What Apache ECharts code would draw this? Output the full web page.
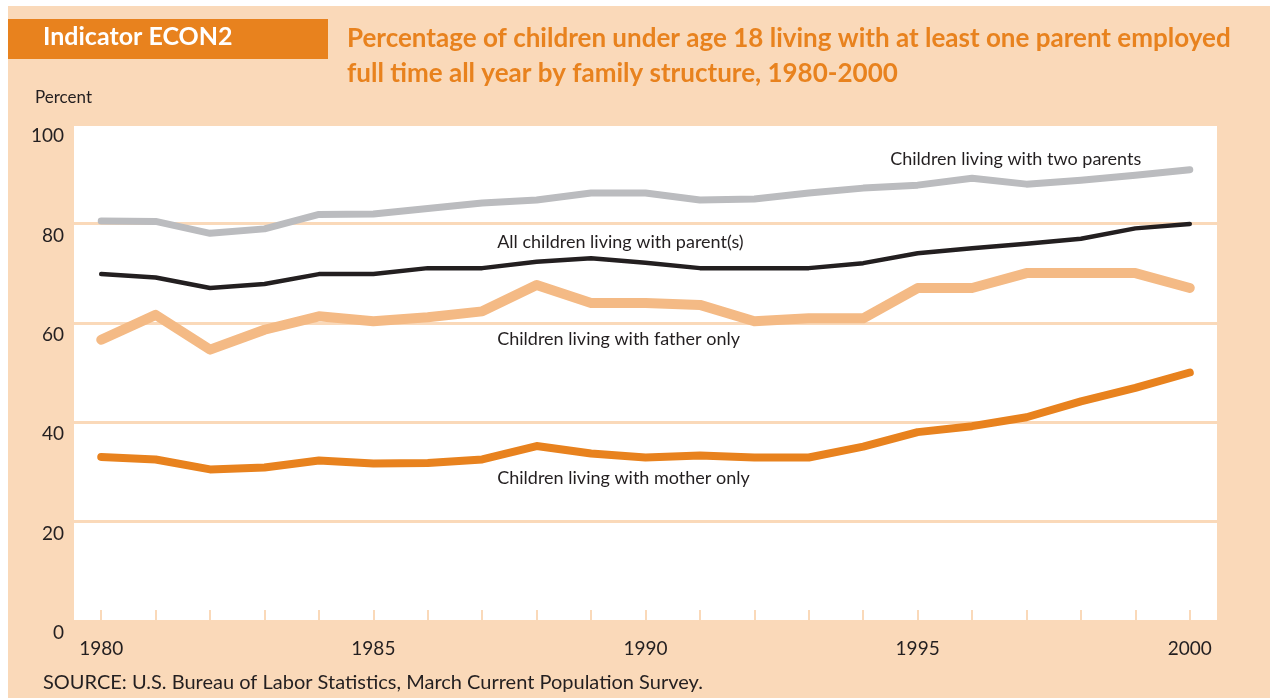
<!DOCTYPE html>
<html>
<head>
<meta charset="utf-8">
<script src="https://cdn.jsdelivr.net/npm/echarts@6/dist/echarts.min.js"></script>
<style>
  html, body { margin: 0; padding: 0; background: #ffffff; }
  #bg { position: absolute; left: 8px; top: 6px; width: 1262px; height: 692px; background: #FAD9B9; }
  #chart { position: absolute; left: 0; top: 0; width: 1270px; height: 698px; }
</style>
</head>
<body>
<div id="bg"></div>
<div id="chart"></div>
<script>
const years = ['1980','1981','1982','1983','1984','1985','1986','1987','1988','1989','1990',
               '1991','1992','1993','1994','1995','1996','1997','1998','1999','2000'];
const yTicks = [0, 20, 40, 60, 80, 100];

const twoParents = [80.5, 80.4, 78.0, 78.9, 81.8, 81.9, 83.0, 84.1, 84.7, 86.1, 86.1,
                    84.7, 84.9, 86.1, 87.1, 87.7, 89.1, 87.9, 88.7, 89.7, 90.8];
const allChildren = [69.8, 69.1, 67.0, 67.8, 69.8, 69.8, 71.0, 71.0, 72.3, 73.0, 72.1,
                     71.0, 71.0, 71.0, 72.0, 74.0, 75.0, 75.9, 76.9, 79.0, 79.9];
const fatherOnly = [56.6, 61.6, 54.6, 58.6, 61.3, 60.3, 61.1, 62.3, 67.6, 64.0, 64.0,
                    63.6, 60.3, 60.9, 60.9, 67.0, 67.0, 70.0, 70.0, 70.0, 67.0];
const motherOnly = [33.0, 32.5, 30.5, 30.9, 32.3, 31.7, 31.8, 32.5, 35.2, 33.7, 32.9,
                    33.3, 32.9, 32.9, 35.1, 38.0, 39.2, 41.0, 44.2, 46.9, 50.0];

const seriesNames = [
  'Children living with two parents',
  'All children living with parent(s)',
  'Children living with father only',
  'Children living with mother only'
];
// label anchors in data space: [year, value, distance]
const labelAnchors = [
  ['1994', 93.0, 27],
  ['1987', 76.3, 15],
  ['1987', 56.7, 15],
  ['1987', 28.8, 15]
];

const PEACH = '#FAD9B9';
const ORANGE = '#E8821E';
const DARK = '#231F20';
const FONT = 'Lato, "Open Sans", sans-serif';

function mkSeries(i, data, color, width) {
  return {
    name: seriesNames[i],
    type: 'line',
    data: data,
    symbol: 'none',
    lineStyle: { color: color, width: width, cap: 'round', join: 'round' },
    z: 2 + i,
    markPoint: {
      symbol: 'circle',
      symbolSize: 0,
      silent: true,
      data: [{ coord: [labelAnchors[i][0], labelAnchors[i][1]] }],
      label: {
        show: true,
        position: 'right',
        distance: labelAnchors[i][2],
        formatter: seriesNames[i],
        color: DARK,
        fontFamily: FONT,
        fontSize: 18
      }
    }
  };
}

const chart = echarts.init(document.getElementById('chart'), null, { renderer: 'canvas' });
chart.setOption({
  animation: false,
  backgroundColor: 'transparent',
  textStyle: { fontFamily: FONT },
  grid: {
    left: 74, right: 53, top: 124, bottom: 77,
    show: true, backgroundColor: '#ffffff', borderWidth: 0
  },
  xAxis: {
    type: 'category',
    data: years,
    boundaryGap: true,
    axisLine: { show: false },
    axisTick: {
      show: true, inside: true, alignWithLabel: true, interval: 0, length: 11,
      lineStyle: { color: PEACH, width: 2 }
    },
    axisLabel: {
      interval: 4, color: DARK, fontSize: 19, margin: 18, fontFamily: FONT
    },
    splitLine: { show: false }
  },
  yAxis: {
    type: 'value',
    min: yTicks[0], max: yTicks[yTicks.length - 1], interval: 20,
    axisLine: { show: false },
    axisTick: { show: false },
    axisLabel: {
      color: DARK, fontSize: 19, margin: 10, fontFamily: FONT,
      verticalAlign: 'top', lineHeight: 24
    },
    splitLine: { show: true, lineStyle: { color: PEACH, width: 3 } }
  },
  graphic: [
    { type: 'rect', left: 8, top: 19, shape: { width: 320, height: 40 }, style: { fill: ORANGE } },
    { type: 'text', left: 43, top: 24, style: { text: 'Indicator ECON2', fill: '#ffffff',
      font: 'bold 25px ' + FONT } },
    { type: 'text', left: 347, top: 21, style: {
      text: 'Percentage of children under age 18 living with at least one parent employed\nfull time all year by family structure, 1980-2000',
      fill: ORANGE, font: 'bold 26px ' + FONT, lineHeight: 35 } },
    { type: 'text', left: 35, top: 89, style: { text: 'Percent', fill: DARK, font: '17px ' + FONT } },
    { type: 'text', left: 43, top: 673, style: {
      text: 'SOURCE: U.S. Bureau of Labor Statistics, March Current Population Survey.',
      fill: DARK, font: '20px ' + FONT } }
  ],
  series: [
    mkSeries(0, twoParents, '#BBBCBF', 7),
    mkSeries(1, allChildren, DARK, 4.5),
    mkSeries(2, fatherOnly, '#F4BA85', 10),
    mkSeries(3, motherOnly, ORANGE, 8)
  ]
});
</script>
</body>
</html>
